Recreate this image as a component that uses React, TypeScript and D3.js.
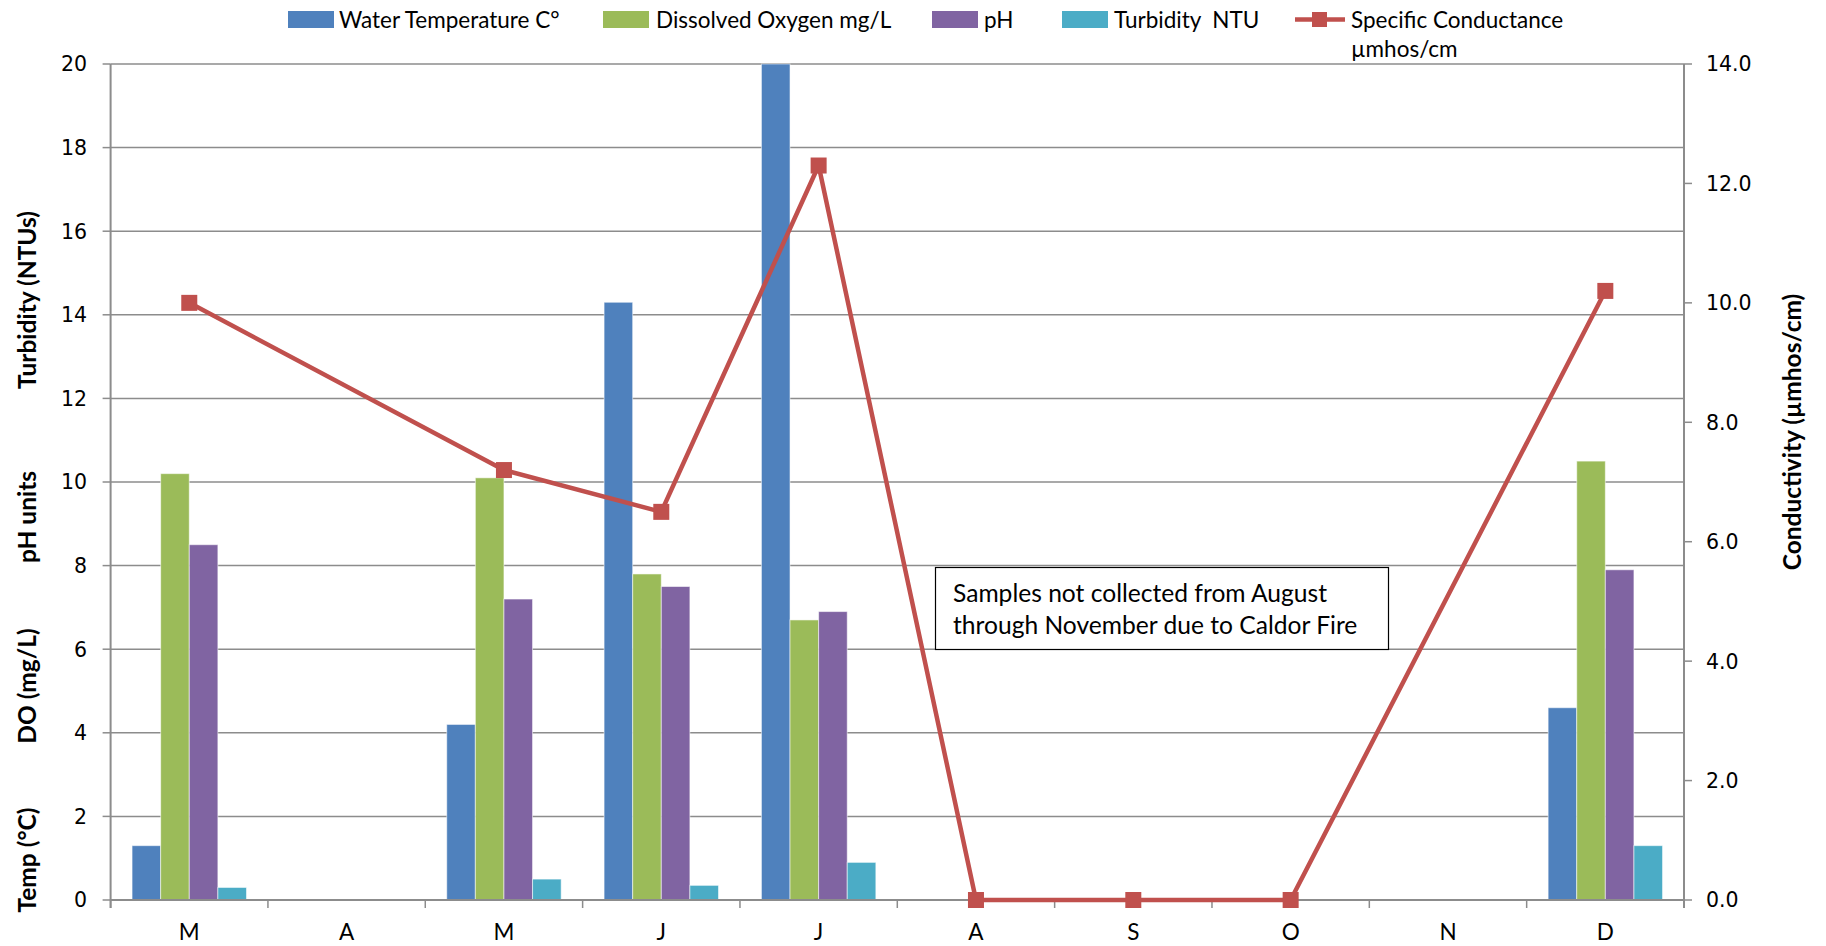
import React from 'react';
import * as d3 from 'd3';

// Monthly sampling categories
const months = ['M', 'A', 'M', 'J', 'J', 'A', 'S', 'O', 'N', 'D'];

// Bar series (left axis)
const waterTemp: (number | null)[] = [1.3, null, 4.2, 14.3, 20, null, null, null, null, 4.6];
const dissolvedOxygen: (number | null)[] = [10.2, null, 10.1, 7.8, 6.7, null, null, null, null, 10.5];
const phValues: (number | null)[] = [8.5, null, 7.2, 7.5, 6.9, null, null, null, null, 7.9];
const turbidity: (number | null)[] = [0.3, null, 0.5, 0.35, 0.9, null, null, null, null, 1.3];

// Line series (right axis)
const conductance: (number | null)[] = [10.0, null, 7.2, 6.5, 12.3, 0, 0, 0, null, 10.2];

const leftTicks = [0, 2, 4, 6, 8, 10, 12, 14, 16, 18, 20];
const rightTicks = [0, 2, 4, 6, 8, 10, 12, 14];

const barSeries = [
  { key: 'temp', name: 'Water Temperature C°', values: waterTemp, color: '#4F81BD' },
  { key: 'do', name: 'Dissolved Oxygen mg/L', values: dissolvedOxygen, color: '#9BBB59' },
  { key: 'ph', name: 'pH', values: phValues, color: '#8064A2' },
  { key: 'turb', name: 'Turbidity  NTU', values: turbidity, color: '#4BACC6' },
];
const lineColor = '#C0504D';

const W = 1826;
const H = 946;
const plot = { left: 110.6, right: 1684, top: 64, bottom: 900 };

const tickFont = '"DejaVu Sans", Verdana, sans-serif';
const textFont = 'Lato, "Open Sans", sans-serif';

export default function App() {
  const x = d3
    .scaleBand<number>()
    .domain(months.map((_, i) => i))
    .range([plot.left, plot.right])
    .paddingInner(0)
    .paddingOuter(0);
  const xInner = d3
    .scaleBand<string>()
    .domain(barSeries.map((s) => s.key))
    .range([0, x.bandwidth()])
    .paddingInner(0)
    .paddingOuter(0.75);
  const yLeft = d3.scaleLinear().domain([0, 20]).range([plot.bottom, plot.top]);
  const yRight = d3.scaleLinear().domain([0, 14]).range([plot.bottom, plot.top]);

  const linePts = conductance
    .map((v, i) => ({ v, i }))
    .filter((d) => d.v !== null) as { v: number; i: number }[];
  const lineGen = d3
    .line<{ v: number; i: number }>()
    .x((d) => (x(d.i) as number) + x.bandwidth() / 2)
    .y((d) => yRight(d.v));

  const boundaries = d3.range(months.length + 1).map((i) =>
    i < months.length ? (x(i) as number) : plot.right
  );

  const legendItems = [
    { sx: 288, tx: 339, text: barSeries[0].name, color: barSeries[0].color },
    { sx: 603, tx: 656, text: barSeries[1].name, color: barSeries[1].color },
    { sx: 932, tx: 984, text: barSeries[2].name, color: barSeries[2].color },
    { sx: 1062, tx: 1114, text: barSeries[3].name, color: barSeries[3].color },
  ];

  const legendSize = 22.5;

  return (
    <svg
      width={W}
      height={H}
      style={{ position: 'absolute', left: 0, top: 0, display: 'block', background: '#fff' }}
    >
      <rect x={0} y={0} width={W} height={H} fill="#fff" />

      {/* horizontal gridlines */}
      {leftTicks.map((t) => (
        <line
          key={'g' + t}
          x1={plot.left}
          x2={plot.right}
          y1={yLeft(t)}
          y2={yLeft(t)}
          stroke="#8C8C8C"
          strokeWidth={1.5}
        />
      ))}

      {/* bars */}
      {barSeries.map((s) =>
        s.values.map((v, i) =>
          v === null ? null : (
            <rect
              key={s.key + i}
              x={(x(i) as number) + (xInner(s.key) as number)}
              y={yLeft(v)}
              width={xInner.bandwidth()}
              height={yLeft(0) - yLeft(v)}
              fill={s.color}
              stroke="rgba(255,255,255,0.55)"
              strokeWidth={1}
            />
          )
        )
      )}

      {/* left axis */}
      <line x1={plot.left} x2={plot.left} y1={plot.top} y2={plot.bottom + 8} stroke="#8C8C8C" strokeWidth={2} />
      {leftTicks.map((t) => (
        <g key={'lt' + t}>
          <line x1={plot.left - 8} x2={plot.left} y1={yLeft(t)} y2={yLeft(t)} stroke="#8C8C8C" strokeWidth={1.5} />
          <text
            x={87}
            y={yLeft(t)}
            dy="0.36em"
            textAnchor="end"
            fontFamily={tickFont}
            fontSize={20.5}
            fill="#000"
          >
            {t}
          </text>
        </g>
      ))}

      {/* right axis */}
      <line x1={plot.right} x2={plot.right} y1={plot.top} y2={plot.bottom + 8} stroke="#8C8C8C" strokeWidth={2} />
      {rightTicks.map((t) => (
        <g key={'rt' + t}>
          <line x1={plot.right} x2={plot.right + 8} y1={yRight(t)} y2={yRight(t)} stroke="#8C8C8C" strokeWidth={1.5} />
          <text
            x={1706}
            y={yRight(t)}
            dy="0.36em"
            textAnchor="start"
            fontFamily={tickFont}
            fontSize={20.5}
            fill="#000"
          >
            {t.toFixed(1)}
          </text>
        </g>
      ))}

      {/* category axis */}
      <line x1={plot.left} x2={plot.right} y1={plot.bottom} y2={plot.bottom} stroke="#8C8C8C" strokeWidth={2} />
      {boundaries.map((bx, i) => (
        <line key={'xt' + i} x1={bx} x2={bx} y1={plot.bottom} y2={plot.bottom + 8} stroke="#8C8C8C" strokeWidth={1.5} />
      ))}
      {months.map((m, i) => (
        <text
          key={'m' + i}
          x={(x(i) as number) + x.bandwidth() / 2}
          y={940}
          textAnchor="middle"
          fontFamily={textFont}
          fontSize={22.5}
          fill="#000"
        >
          {m}
        </text>
      ))}

      {/* conductance line */}
      <path d={lineGen(linePts) || ''} fill="none" stroke={lineColor} strokeWidth={4.5} strokeLinejoin="round" />
      {linePts.map((d) => (
        <rect
          key={'mk' + d.i}
          x={(x(d.i) as number) + x.bandwidth() / 2 - 8}
          y={yRight(d.v) - 8}
          width={16}
          height={16}
          fill={lineColor}
        />
      ))}

      {/* axis titles */}
      {[
        { t: 'Temp (°C)', y: 860 },
        { t: 'DO (mg/L)', y: 686 },
        { t: 'pH units', y: 517 },
        { t: 'Turbidity (NTUs)', y: 300 },
      ].map((a) => (
        <text
          key={a.t}
          transform={`translate(36,${a.y}) rotate(-90)`}
          textAnchor="middle"
          fontFamily={textFont}
          fontWeight="bold"
          fontSize={24.5}
          fill="#000"
        >
          {a.t}
        </text>
      ))}
      <text
        transform="translate(1801,432) rotate(-90)"
        textAnchor="middle"
        fontFamily={textFont}
        fontWeight="bold"
        fontSize={24.5}
        fill="#000"
      >
        Conductivity (µmhos/cm)
      </text>

      {/* legend */}
      {legendItems.map((l) => (
        <g key={l.text}>
          <rect x={l.sx} y={11} width={46} height={17} fill={l.color} />
          <text
            x={l.tx}
            y={28}
            fontFamily={textFont}
            fontSize={legendSize}
            fill="#000"
            style={{ whiteSpace: 'pre' }}
          >
            {l.text}
          </text>
        </g>
      ))}
      <line x1={1295} x2={1345} y1={19.5} y2={19.5} stroke={lineColor} strokeWidth={4.5} />
      <rect x={1312} y={12} width={15} height={15} fill={lineColor} />
      <text x={1351} y={28} fontFamily={textFont} fontSize={legendSize} fill="#000">
        Specific Conductance
      </text>
      <text x={1351} y={57} fontFamily={textFont} fontSize={legendSize} fill="#000">
        µmhos/cm
      </text>

      {/* annotation */}
      <rect x={935.5} y={567.5} width={453} height={82} fill="#fff" stroke="#000" strokeWidth={1.2} />
      <text x={953} y={602} fontFamily={textFont} fontSize={24.6} fill="#000">
        Samples not collected from August
      </text>
      <text x={953} y={634} fontFamily={textFont} fontSize={24.6} fill="#000">
        through November due to Caldor Fire
      </text>
    </svg>
  );
}
